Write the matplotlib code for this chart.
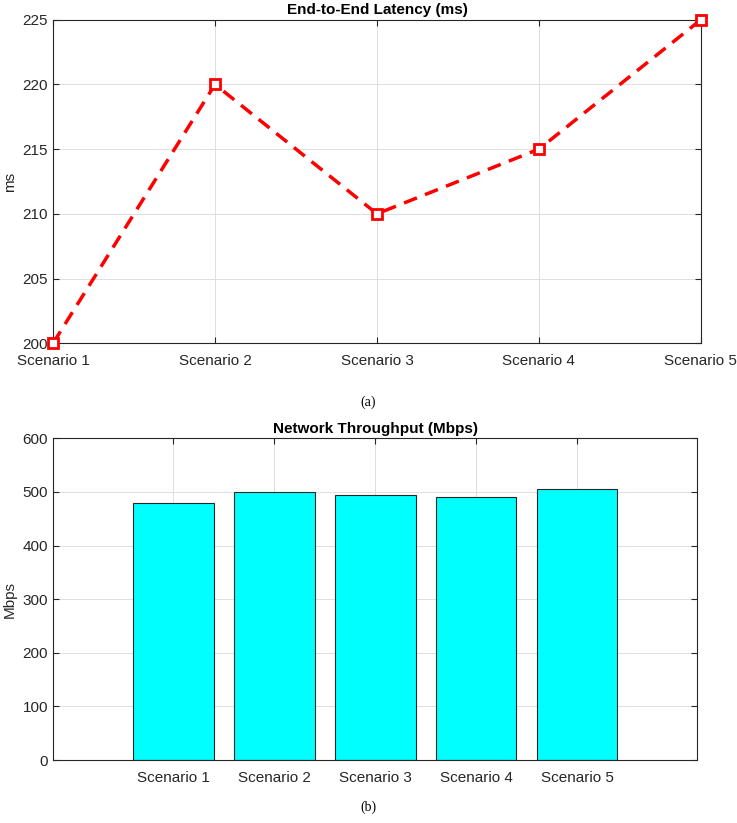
import matplotlib.pyplot as plt

scenarios = ['Scenario 1', 'Scenario 2', 'Scenario 3', 'Scenario 4', 'Scenario 5']
latency_ms = [200, 220, 210, 215, 225]
throughput_mbps = [480, 500, 495, 490, 505]

plt.rcParams['font.family'] = ['Liberation Sans', 'DejaVu Sans']
AX_COLOR = '#262626'


def style_axes(ax):
    for s in ax.spines.values():
        s.set_color(AX_COLOR)
        s.set_linewidth(0.8)
    ax.tick_params(direction='in', top=True, right=True, colors=AX_COLOR,
                   labelcolor=AX_COLOR, labelsize=11, length=4, width=0.8)
    ax.tick_params(axis='x', pad=8)
    ax.grid(True, color='#dedede', linewidth=0.7)
    ax.set_axisbelow(True)


fig = plt.figure(figsize=(7.37, 8.23), dpi=100)

# (a) latency
ax1 = fig.add_axes([0.072, 0.583, 0.879, 0.393])
x = list(range(1, len(scenarios) + 1))
ax1.plot(x, latency_ms, color='red', linestyle='--', linewidth=2.5, dashes=(4, 2.5),
         marker='s', markersize=7, markerfacecolor='white', markeredgecolor='red',
         markeredgewidth=2, clip_on=False, zorder=3)
ax1.set_xlim(1, 5)
ax1.set_ylim(200, 225)
ax1.set_yticks(range(200, 226, 5))
ax1.set_xticks(x)
ax1.set_xticklabels(scenarios)
ax1.set_ylabel('ms', fontsize=11, color=AX_COLOR)
ax1.set_title('End-to-End Latency (ms)', fontsize=11, fontweight='bold', pad=4)
style_axes(ax1)
fig.text(0.5, 0.5115, '(a)', ha='center', va='center', fontsize=10,
         family='Liberation Serif')

# (b) throughput
ax2 = fig.add_axes([0.072, 0.0765, 0.874, 0.391])
ax2.bar(x, throughput_mbps, width=0.8, color='cyan', edgecolor=AX_COLOR, linewidth=0.8)
ax2.set_xlim(-0.19, 6.19)
ax2.set_ylim(0, 600)
ax2.set_yticks(range(0, 601, 100))
ax2.set_xticks(x)
ax2.set_xticklabels(scenarios)
ax2.set_ylabel('Mbps', fontsize=11, color=AX_COLOR)
ax2.set_title('Network Throughput (Mbps)', fontsize=11, fontweight='bold', pad=4)
style_axes(ax2)
fig.text(0.5, 0.019, '(b)', ha='center', va='center', fontsize=10,
         family='Liberation Serif')

fig.savefig('out.png', dpi=100)
